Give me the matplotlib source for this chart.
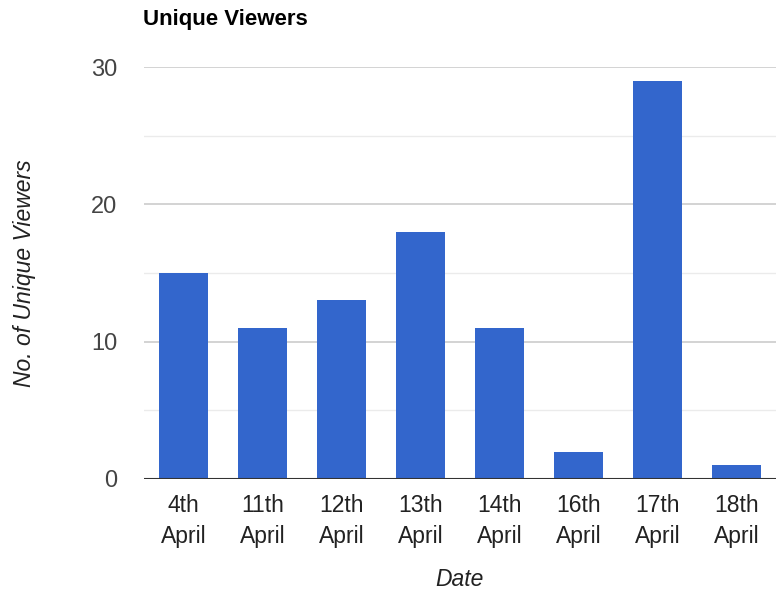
import matplotlib.pyplot as plt
from matplotlib.ticker import MultipleLocator

# Unique viewers per day
dates = ['4th\nApril', '11th\nApril', '12th\nApril', '13th\nApril',
         '14th\nApril', '16th\nApril', '17th\nApril', '18th\nApril']
viewers = [15, 11, 13, 18, 11, 2, 29, 1]

plt.rcParams['font.family'] = ['Liberation Sans', 'DejaVu Sans']

fig = plt.figure(figsize=(7.77, 5.92), dpi=100)
ax = fig.add_axes([0.1853, 0.1909, 0.8134, 0.6959])

x = range(len(dates))
ax.bar(x, viewers, width=0.61, color='#3366cc', zorder=3)

ax.set_xlim(-0.5, len(dates) - 0.5)
ax.set_ylim(0, 30)
ax.yaxis.set_major_locator(MultipleLocator(10))
ax.yaxis.set_minor_locator(MultipleLocator(5))
ax.grid(axis='y', which='major', color='#cccccc', linewidth=1.2, zorder=0)
ax.grid(axis='y', which='minor', color='#ebebeb', linewidth=1.0, zorder=0)
ax.axhline(0, color='#333333', linewidth=1.5, zorder=4)

for s in ax.spines.values():
    s.set_visible(False)

ax.set_xticks(list(x))
ax.set_xticklabels(dates, fontsize=16.5, color='#222222', linespacing=1.45)
ax.tick_params(axis='x', length=0, pad=11)
ax.tick_params(axis='y', which='both', length=0, pad=19, labelsize=17,
               labelcolor='#444444')

ax.set_xlabel('Date', fontsize=16.5, style='italic', color='#222222', labelpad=14)
ax.set_ylabel('No. of Unique Viewers', fontsize=16.5, style='italic',
              color='#222222', labelpad=40)

fig.text(143 / 777, 1 - 20 / 592, 'Unique Viewers', fontsize=16,
         fontweight='bold', ha='left', va='center', color='#000000')

fig.savefig('out.png', dpi=100)
